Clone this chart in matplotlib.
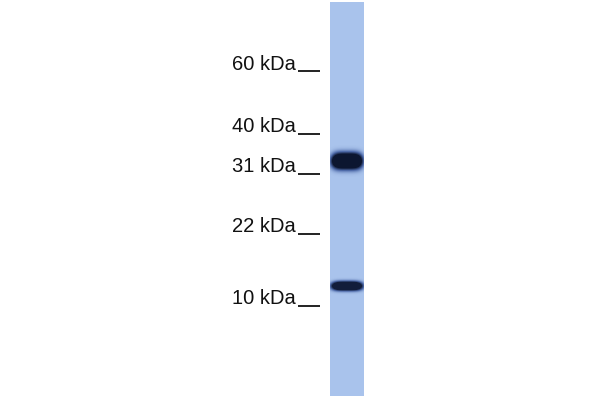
import numpy as np
import matplotlib
matplotlib.use("Agg")
import matplotlib.pyplot as plt
from matplotlib.colors import LinearSegmentedColormap

# marker ladder (label, y position of the tick line in pixels)
marker_labels = ["60 kDa", "40 kDa", "31 kDa", "22 kDa", "10 kDa"]
marker_y = [71, 134, 174, 234, 306]

# bands in the lane: centre y, half height, darkness 0..1
band_y = [161, 286]
band_h = [9.0, 5.0]
band_dark = [1.0, 0.95]

lane_x = (330, 364)
lane_top, lane_bottom = 2, 396

fig = plt.figure(figsize=(6, 4), dpi=100)
ax = fig.add_axes([0, 0, 1, 1])
ax.set_xlim(0, 600)
ax.set_ylim(400, 0)
ax.axis("off")

# lane image: 0 = lane blue, 1 = band navy
ys = np.arange(lane_top, lane_bottom) + 0.5
xs = np.arange(lane_x[0], lane_x[1]) + 0.5
X, Y = np.meshgrid(xs, ys)
cx = (lane_x[0] + lane_x[1]) / 2
hw = (lane_x[1] - lane_x[0]) / 2
img = np.zeros_like(X)
for y0, h, d in zip(band_y, band_h, band_dark):
    r = ((X - cx) / (hw * 0.97)) ** 4 + ((Y - y0) / h) ** 2
    img = np.maximum(img, d * np.clip(1.6 * np.exp(-r ** 1.5), 0, 1))
cmap = LinearSegmentedColormap.from_list("blot", ["#a9c3ec", "#4d69a8", "#0c1630"])
ax.imshow(img, cmap=cmap, vmin=0, vmax=1, extent=(lane_x[0], lane_x[1], lane_bottom, lane_top),
          aspect="auto", interpolation="bilinear")

for lab, y in zip(marker_labels, marker_y):
    ax.text(296, y - 1.5, lab, ha="right", va="baseline", fontsize=14.5,
            family="Liberation Sans", color="#111111")
    ax.plot([298, 320], [y, y], color="#111111", lw=1.3, solid_capstyle="butt")

fig.savefig("out.png", dpi=100)
